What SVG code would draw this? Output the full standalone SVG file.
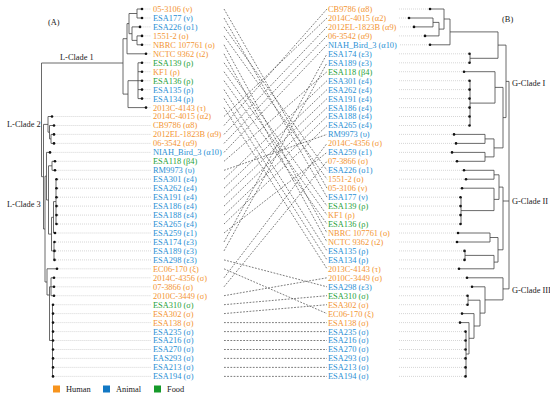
<svg xmlns="http://www.w3.org/2000/svg" width="550" height="396" viewBox="0 0 550 396">
<style>
text{font-family:"Liberation Serif","Times New Roman",serif;font-size:8.4px}
.k{fill:#222}
.h{fill:#f39533}
.a{fill:#2a8fd4}
.f{fill:#1fa23a}
circle{fill:#111}
.ld{stroke:#aaa;stroke-width:0.6;stroke-dasharray:0.8 1.2}
.br{fill:none;stroke:#444;stroke-width:0.8}
.cn line{stroke:#444;stroke-width:0.7;stroke-dasharray:1.8 1.4}
</style>
<rect width="550" height="396" fill="#fff"/>
<text class="k" x="48" y="25">(A)</text>
<text class="k" x="502" y="22">(B)</text>
<g id="tree-left">
<path class="br" d="M137 9H142M137 18H142M137 9V18M137 35.9H142M137 44.8H142M137 35.9V44.8M132 26.9H140M132 40.4H137M132 26.9V40.4M129 13.5H137M129 33.7H132M129 13.5V33.7M127 23.6H129M127 53.8H146M127 23.6V53.8M138 62.8H142M138 71.7H142M138 80.7H142M138 89.6H142M138 98.6H142M138 62.8V98.6M128 80.7H138M128 107.6H146M128 80.7V107.6M123 38.7H127M123 94.1H128M123 38.7V94.1M41.5 63H123M41.5 63V176.7M41.5 176.7H43.5M51 134.4H54M51 143.4H54M51 134.4V143.4M49.5 125.5H54M49.5 138.9H51M49.5 125.5V138.9M48 116.5H52M48 132.2H49.5M48 116.5V132.2M43.5 124.4H48M43.5 124.4V229M43.5 229H45M56 179.2V224M53.5 201.6H56M53.5 233H55M53.5 201.6V233M54 242V259.9M51.5 217.3H53.5M51.5 250.9H54M51.5 217.3V250.9M52 161.3H55M52 170.3H55M52 161.3V170.3M48.5 165.8H52M48.5 234.1H51.5M48.5 165.8V234.1M46.5 152.4H50M46.5 200H48.5M46.5 152.4V200M51 277.8H54M51 286.8H54M51 295.7H54M51 277.8V295.7M52.5 304.7V376.4M49.5 286.8H51M49.5 340.5H52.5M49.5 286.8V340.5M47 268.8H57M47 295H49.5M47 268.8V295M45 176.2H46.5M45 282H47M45 176.2V282"/>
<text class="k" x="60" y="60">L-Clade 1</text>
<text class="k" x="7" y="127">L-Clade 2</text>
<text class="k" x="7" y="207">L-Clade 3</text>
</g>
<g id="tree-right">
<path class="br" d="M409 18H433M414 26.9H433M433 18V26.9M425 35.9H439M433 22.4H439M439 22.4V35.9M430 9H444M439 29.1H444M444 9V29.1M430 44.8H450M444 19H450M450 19V44.8M450 31.9H498M470 53.8V62.8M470 58.3H498M498 31.9V58.3M498 45.1H506M464 71.7H495M470 80.7V125.5M470 103.1H495M495 71.7V103.1M495 87.4H503M454 134.4H485M456 143.4H485M485 134.4V143.4M485 138.9H494M452 152.4H485M457 161.3H485M485 152.4V161.3M485 156.9H494M494 138.9V156.9M494 147.9H503M503 87.4V147.9M503 117.6H506M506 45.1V117.6M506 81.4H509M509 81.4V288.9M464 170.3H494M466 179.2H494M494 170.3V179.2M494 174.8H499M461 197.2V224M461 210.6H494M462 188.2H494M494 188.2V210.6M494 199.4H499M499 174.8V199.4M499 187.1H503M458 233H490M457 242H490M490 233V242M490 237.5H498M465 250.9V259.9M465 255.4H494M459 268.8H494M494 255.4V268.8M494 262.1H498M498 237.5V262.1M498 249.8H503M503 187.1V249.8M503 201H509M466 331.6V376.4M466 354H469M460 322.6H469M469 322.6V354M469 338.3H474M462 313.6H474M474 313.6V338.3M474 326H480M468 295.7V304.7M468 300.2H480M480 300.2V326M480 313.1H485M472 286.8H485M485 286.8V313.1M485 299.9H503M467 277.8H503M503 277.8V299.9M503 288.9H509"/>
<text class="k" x="512" y="86">G-Clade I</text>
<text class="k" x="512" y="204">G-Clade II</text>
<text class="k" x="512" y="293">G-Clade III</text>
</g>
<g id="connectors" class="cn">
<line x1="224" y1="9" x2="327" y2="188.2"/>
<line x1="224" y1="18" x2="327" y2="197.2"/>
<line x1="224" y1="26.9" x2="327" y2="170.3"/>
<line x1="224" y1="35.9" x2="327" y2="179.2"/>
<line x1="224" y1="44.8" x2="327" y2="233"/>
<line x1="224" y1="53.8" x2="327" y2="242"/>
<line x1="224" y1="62.8" x2="327" y2="206.1"/>
<line x1="224" y1="71.7" x2="327" y2="215.1"/>
<line x1="224" y1="80.7" x2="327" y2="224"/>
<line x1="224" y1="89.6" x2="327" y2="250.9"/>
<line x1="224" y1="98.6" x2="327" y2="259.9"/>
<line x1="224" y1="107.6" x2="327" y2="268.8"/>
<line x1="224" y1="116.5" x2="327" y2="18"/>
<line x1="224" y1="125.5" x2="327" y2="9"/>
<line x1="224" y1="134.4" x2="327" y2="26.9"/>
<line x1="224" y1="143.4" x2="327" y2="35.9"/>
<line x1="224" y1="152.4" x2="327" y2="44.8"/>
<line x1="224" y1="161.3" x2="327" y2="71.7"/>
<line x1="224" y1="170.3" x2="327" y2="134.4"/>
<line x1="224" y1="179.2" x2="327" y2="80.7"/>
<line x1="224" y1="188.2" x2="327" y2="89.6"/>
<line x1="224" y1="197.2" x2="327" y2="98.6"/>
<line x1="224" y1="206.1" x2="327" y2="107.6"/>
<line x1="224" y1="215.1" x2="327" y2="116.5"/>
<line x1="224" y1="224" x2="327" y2="125.5"/>
<line x1="224" y1="233" x2="327" y2="152.4"/>
<line x1="224" y1="242" x2="327" y2="53.8"/>
<line x1="224" y1="250.9" x2="327" y2="62.8"/>
<line x1="224" y1="259.9" x2="327" y2="286.8"/>
<line x1="224" y1="268.8" x2="327" y2="313.6"/>
<line x1="224" y1="277.8" x2="327" y2="143.4"/>
<line x1="224" y1="286.8" x2="327" y2="161.3"/>
<line x1="224" y1="295.7" x2="327" y2="277.8"/>
<line x1="224" y1="304.7" x2="327" y2="295.7"/>
<line x1="224" y1="313.6" x2="327" y2="304.7"/>
<line x1="224" y1="322.6" x2="327" y2="322.6"/>
<line x1="224" y1="331.6" x2="327" y2="331.6"/>
<line x1="224" y1="340.5" x2="327" y2="340.5"/>
<line x1="224" y1="349.5" x2="327" y2="349.5"/>
<line x1="224" y1="358.4" x2="327" y2="358.4"/>
<line x1="224" y1="367.4" x2="327" y2="367.4"/>
<line x1="224" y1="376.4" x2="327" y2="376.4"/>
</g>
<g id="left-tips">
<g id="L0" class="h" transform="translate(0 9)"><line class="ld" x1="143.5" x2="151"/><circle cx="142" r="1.3"/><text x="153" y="2.9">05-3106 (ν)</text></g>
<g id="L1" class="a" transform="translate(0 18)"><line class="ld" x1="143.5" x2="151"/><circle cx="142" r="1.3"/><text x="153" y="2.9">ESA177 (ν)</text></g>
<g id="L2" class="a" transform="translate(0 26.9)"><line class="ld" x1="141.5" x2="151"/><circle cx="140" r="1.3"/><text x="153" y="2.9">ESA226 (ο1)</text></g>
<g id="L3" class="h" transform="translate(0 35.9)"><line class="ld" x1="143.5" x2="151"/><circle cx="142" r="1.3"/><text x="153" y="2.9">1551-2 (ο)</text></g>
<g id="L4" class="h" transform="translate(0 44.8)"><line class="ld" x1="143.5" x2="151"/><circle cx="142" r="1.3"/><text x="153" y="2.9">NBRC 107761 (ο)</text></g>
<g id="L5" class="h" transform="translate(0 53.8)"><line class="ld" x1="147.5" x2="151"/><circle cx="146" r="1.3"/><text x="153" y="2.9">NCTC 9362 (ι2)</text></g>
<g id="L6" class="f" transform="translate(0 62.8)"><line class="ld" x1="143.5" x2="151"/><circle cx="142" r="1.3"/><text x="153" y="2.9">ESA139 (ρ)</text></g>
<g id="L7" class="h" transform="translate(0 71.7)"><line class="ld" x1="143.5" x2="151"/><circle cx="142" r="1.3"/><text x="153" y="2.9">KF1 (ρ)</text></g>
<g id="L8" class="f" transform="translate(0 80.7)"><line class="ld" x1="143.5" x2="151"/><circle cx="142" r="1.3"/><text x="153" y="2.9">ESA136 (ρ)</text></g>
<g id="L9" class="a" transform="translate(0 89.6)"><line class="ld" x1="143.5" x2="151"/><circle cx="142" r="1.3"/><text x="153" y="2.9">ESA135 (ρ)</text></g>
<g id="L10" class="a" transform="translate(0 98.6)"><line class="ld" x1="143.5" x2="151"/><circle cx="142" r="1.3"/><text x="153" y="2.9">ESA134 (ρ)</text></g>
<g id="L11" class="h" transform="translate(0 107.6)"><line class="ld" x1="147.5" x2="151"/><circle cx="146" r="1.3"/><text x="153" y="2.9">2013C-4143 (τ)</text></g>
<g id="L12" class="h" transform="translate(0 116.5)"><line class="ld" x1="53.5" x2="151"/><circle cx="52" r="1.3"/><text x="153" y="2.9">2014C-4015 (α2)</text></g>
<g id="L13" class="h" transform="translate(0 125.5)"><line class="ld" x1="55.5" x2="151"/><circle cx="54" r="1.3"/><text x="153" y="2.9">CB9786 (α8)</text></g>
<g id="L14" class="h" transform="translate(0 134.4)"><line class="ld" x1="55.5" x2="151"/><circle cx="54" r="1.3"/><text x="153" y="2.9">2012EL-1823B (α9)</text></g>
<g id="L15" class="h" transform="translate(0 143.4)"><line class="ld" x1="55.5" x2="151"/><circle cx="54" r="1.3"/><text x="153" y="2.9">06-3542 (α9)</text></g>
<g id="L16" class="a" transform="translate(0 152.4)"><line class="ld" x1="51.5" x2="151"/><circle cx="50" r="1.3"/><text x="153" y="2.9">NIAH_Bird_3 (α10)</text></g>
<g id="L17" class="f" transform="translate(0 161.3)"><line class="ld" x1="56.5" x2="151"/><circle cx="55" r="1.3"/><text x="153" y="2.9">ESA118 (β4)</text></g>
<g id="L18" class="a" transform="translate(0 170.3)"><line class="ld" x1="56.5" x2="151"/><circle cx="55" r="1.3"/><text x="153" y="2.9">RM9973 (υ)</text></g>
<g id="L19" class="a" transform="translate(0 179.2)"><line class="ld" x1="58" x2="151"/><circle cx="56.5" r="1.3"/><text x="153" y="2.9">ESA301 (ε4)</text></g>
<g id="L20" class="a" transform="translate(0 188.2)"><line class="ld" x1="58" x2="151"/><circle cx="56.5" r="1.3"/><text x="153" y="2.9">ESA262 (ε4)</text></g>
<g id="L21" class="a" transform="translate(0 197.2)"><line class="ld" x1="58" x2="151"/><circle cx="56.5" r="1.3"/><text x="153" y="2.9">ESA191 (ε4)</text></g>
<g id="L22" class="a" transform="translate(0 206.1)"><line class="ld" x1="58" x2="151"/><circle cx="56.5" r="1.3"/><text x="153" y="2.9">ESA186 (ε4)</text></g>
<g id="L23" class="a" transform="translate(0 215.1)"><line class="ld" x1="58" x2="151"/><circle cx="56.5" r="1.3"/><text x="153" y="2.9">ESA188 (ε4)</text></g>
<g id="L24" class="a" transform="translate(0 224)"><line class="ld" x1="58" x2="151"/><circle cx="56.5" r="1.3"/><text x="153" y="2.9">ESA265 (ε4)</text></g>
<g id="L25" class="a" transform="translate(0 233)"><line class="ld" x1="56.5" x2="151"/><circle cx="55" r="1.3"/><text x="153" y="2.9">ESA259 (ε1)</text></g>
<g id="L26" class="a" transform="translate(0 242)"><line class="ld" x1="56" x2="151"/><circle cx="54.5" r="1.3"/><text x="153" y="2.9">ESA174 (ε3)</text></g>
<g id="L27" class="a" transform="translate(0 250.9)"><line class="ld" x1="56" x2="151"/><circle cx="54.5" r="1.3"/><text x="153" y="2.9">ESA189 (ε3)</text></g>
<g id="L28" class="a" transform="translate(0 259.9)"><line class="ld" x1="56" x2="151"/><circle cx="54.5" r="1.3"/><text x="153" y="2.9">ESA298 (ε3)</text></g>
<g id="L29" class="h" transform="translate(0 268.8)"><line class="ld" x1="58.5" x2="151"/><circle cx="57" r="1.3"/><text x="153" y="2.9">EC06-170 (ξ)</text></g>
<g id="L30" class="h" transform="translate(0 277.8)"><line class="ld" x1="55.5" x2="151"/><circle cx="54" r="1.3"/><text x="153" y="2.9">2014C-4356 (σ)</text></g>
<g id="L31" class="h" transform="translate(0 286.8)"><line class="ld" x1="55.5" x2="151"/><circle cx="54" r="1.3"/><text x="153" y="2.9">07-3866 (σ)</text></g>
<g id="L32" class="h" transform="translate(0 295.7)"><line class="ld" x1="55.5" x2="151"/><circle cx="54" r="1.3"/><text x="153" y="2.9">2010C-3449 (σ)</text></g>
<g id="L33" class="f" transform="translate(0 304.7)"><line class="ld" x1="54.5" x2="151"/><circle cx="53" r="1.3"/><text x="153" y="2.9">ESA310 (σ)</text></g>
<g id="L34" class="h" transform="translate(0 313.6)"><line class="ld" x1="54.5" x2="151"/><circle cx="53" r="1.3"/><text x="153" y="2.9">ESA302 (σ)</text></g>
<g id="L35" class="h" transform="translate(0 322.6)"><line class="ld" x1="54.5" x2="151"/><circle cx="53" r="1.3"/><text x="153" y="2.9">ESA138 (σ)</text></g>
<g id="L36" class="a" transform="translate(0 331.6)"><line class="ld" x1="54.5" x2="151"/><circle cx="53" r="1.3"/><text x="153" y="2.9">ESA235 (σ)</text></g>
<g id="L37" class="a" transform="translate(0 340.5)"><line class="ld" x1="54.5" x2="151"/><circle cx="53" r="1.3"/><text x="153" y="2.9">ESA216 (σ)</text></g>
<g id="L38" class="a" transform="translate(0 349.5)"><line class="ld" x1="54.5" x2="151"/><circle cx="53" r="1.3"/><text x="153" y="2.9">ESA270 (σ)</text></g>
<g id="L39" class="a" transform="translate(0 358.4)"><line class="ld" x1="54.5" x2="151"/><circle cx="53" r="1.3"/><text x="153" y="2.9">EAS293 (σ)</text></g>
<g id="L40" class="a" transform="translate(0 367.4)"><line class="ld" x1="54.5" x2="151"/><circle cx="53" r="1.3"/><text x="153" y="2.9">ESA213 (σ)</text></g>
<g id="L41" class="a" transform="translate(0 376.4)"><line class="ld" x1="54.5" x2="151"/><circle cx="53" r="1.3"/><text x="153" y="2.9">ESA194 (σ)</text></g>
</g>
<g id="right-tips">
<g id="R0" class="h" transform="translate(0 9)"><line class="ld" x1="399" x2="428.5"/><circle cx="430" r="1.3"/><text x="328" y="2.9">CB9786 (α8)</text></g>
<g id="R1" class="h" transform="translate(0 18)"><line class="ld" x1="399" x2="407.5"/><circle cx="409" r="1.3"/><text x="328" y="2.9">2014C-4015 (α2)</text></g>
<g id="R2" class="h" transform="translate(0 26.9)"><line class="ld" x1="400" x2="412.5"/><circle cx="414" r="1.3"/><text x="328" y="2.9">2012EL-1823B (α9)</text></g>
<g id="R3" class="h" transform="translate(0 35.9)"><line class="ld" x1="399" x2="423.5"/><circle cx="425" r="1.3"/><text x="328" y="2.9">06-3542 (α9)</text></g>
<g id="R4" class="a" transform="translate(0 44.8)"><line class="ld" x1="400" x2="428.5"/><circle cx="430" r="1.3"/><text x="328" y="2.9">NIAH_Bird_3 (α10)</text></g>
<g id="R5" class="a" transform="translate(0 53.8)"><line class="ld" x1="399" x2="467.5"/><circle cx="469.5" r="1.3"/><text x="328" y="2.9">ESA174 (ε3)</text></g>
<g id="R6" class="a" transform="translate(0 62.8)"><line class="ld" x1="399" x2="467.5"/><circle cx="469.5" r="1.3"/><text x="328" y="2.9">ESA189 (ε3)</text></g>
<g id="R7" class="f" transform="translate(0 71.7)"><line class="ld" x1="399" x2="462.5"/><circle cx="464" r="1.3"/><text x="328" y="2.9">ESA118 (β4)</text></g>
<g id="R8" class="a" transform="translate(0 80.7)"><line class="ld" x1="399" x2="467.5"/><circle cx="469.5" r="1.3"/><text x="328" y="2.9">ESA301 (ε4)</text></g>
<g id="R9" class="a" transform="translate(0 89.6)"><line class="ld" x1="399" x2="467.5"/><circle cx="469.5" r="1.3"/><text x="328" y="2.9">ESA262 (ε4)</text></g>
<g id="R10" class="a" transform="translate(0 98.6)"><line class="ld" x1="399" x2="467.5"/><circle cx="469.5" r="1.3"/><text x="328" y="2.9">ESA191 (ε4)</text></g>
<g id="R11" class="a" transform="translate(0 107.6)"><line class="ld" x1="399" x2="467.5"/><circle cx="469.5" r="1.3"/><text x="328" y="2.9">ESA186 (ε4)</text></g>
<g id="R12" class="a" transform="translate(0 116.5)"><line class="ld" x1="399" x2="467.5"/><circle cx="469.5" r="1.3"/><text x="328" y="2.9">ESA188 (ε4)</text></g>
<g id="R13" class="a" transform="translate(0 125.5)"><line class="ld" x1="399" x2="467.5"/><circle cx="469.5" r="1.3"/><text x="328" y="2.9">ESA265 (ε4)</text></g>
<g id="R14" class="a" transform="translate(0 134.4)"><line class="ld" x1="399" x2="452.5"/><circle cx="454" r="1.3"/><text x="328" y="2.9">RM9973 (υ)</text></g>
<g id="R15" class="h" transform="translate(0 143.4)"><line class="ld" x1="399" x2="454.5"/><circle cx="456" r="1.3"/><text x="328" y="2.9">2014C-4356 (σ)</text></g>
<g id="R16" class="a" transform="translate(0 152.4)"><line class="ld" x1="399" x2="450.5"/><circle cx="452" r="1.3"/><text x="328" y="2.9">ESA259 (ε1)</text></g>
<g id="R17" class="h" transform="translate(0 161.3)"><line class="ld" x1="399" x2="455.5"/><circle cx="457" r="1.3"/><text x="328" y="2.9">07-3866 (σ)</text></g>
<g id="R18" class="a" transform="translate(0 170.3)"><line class="ld" x1="399" x2="462.5"/><circle cx="464" r="1.3"/><text x="328" y="2.9">ESA226 (ο1)</text></g>
<g id="R19" class="h" transform="translate(0 179.2)"><line class="ld" x1="399" x2="464.5"/><circle cx="466" r="1.3"/><text x="328" y="2.9">1551-2 (ο)</text></g>
<g id="R20" class="h" transform="translate(0 188.2)"><line class="ld" x1="399" x2="460.5"/><circle cx="462" r="1.3"/><text x="328" y="2.9">05-3106 (ν)</text></g>
<g id="R21" class="a" transform="translate(0 197.2)"><line class="ld" x1="399" x2="459"/><circle cx="460.5" r="1.3"/><text x="328" y="2.9">ESA177 (ν)</text></g>
<g id="R22" class="f" transform="translate(0 206.1)"><line class="ld" x1="399" x2="459"/><circle cx="460.5" r="1.3"/><text x="328" y="2.9">ESA139 (ρ)</text></g>
<g id="R23" class="h" transform="translate(0 215.1)"><line class="ld" x1="399" x2="459"/><circle cx="460.5" r="1.3"/><text x="328" y="2.9">KF1 (ρ)</text></g>
<g id="R24" class="f" transform="translate(0 224)"><line class="ld" x1="399" x2="459"/><circle cx="460.5" r="1.3"/><text x="328" y="2.9">ESA136 (ρ)</text></g>
<g id="R25" class="h" transform="translate(0 233)"><line class="ld" x1="399" x2="456.5"/><circle cx="458" r="1.3"/><text x="328" y="2.9">NBRC 107761 (ο)</text></g>
<g id="R26" class="h" transform="translate(0 242)"><line class="ld" x1="399" x2="455.5"/><circle cx="457" r="1.3"/><text x="328" y="2.9">NCTC 9362 (ι2)</text></g>
<g id="R27" class="a" transform="translate(0 250.9)"><line class="ld" x1="399" x2="463"/><circle cx="464.5" r="1.3"/><text x="328" y="2.9">ESA135 (ρ)</text></g>
<g id="R28" class="a" transform="translate(0 259.9)"><line class="ld" x1="399" x2="463"/><circle cx="464.5" r="1.3"/><text x="328" y="2.9">ESA134 (ρ)</text></g>
<g id="R29" class="h" transform="translate(0 268.8)"><line class="ld" x1="399" x2="457.5"/><circle cx="459" r="1.3"/><text x="328" y="2.9">2013C-4143 (τ)</text></g>
<g id="R30" class="h" transform="translate(0 277.8)"><line class="ld" x1="399" x2="465.5"/><circle cx="467" r="1.3"/><text x="328" y="2.9">2010C-3449 (σ)</text></g>
<g id="R31" class="a" transform="translate(0 286.8)"><line class="ld" x1="399" x2="470.5"/><circle cx="472" r="1.3"/><text x="328" y="2.9">ESA298 (ε3)</text></g>
<g id="R32" class="f" transform="translate(0 295.7)"><line class="ld" x1="399" x2="466"/><circle cx="467.5" r="1.3"/><text x="328" y="2.9">ESA310 (σ)</text></g>
<g id="R33" class="h" transform="translate(0 304.7)"><line class="ld" x1="399" x2="466"/><circle cx="467.5" r="1.3"/><text x="328" y="2.9">ESA302 (σ)</text></g>
<g id="R34" class="h" transform="translate(0 313.6)"><line class="ld" x1="399" x2="460.5"/><circle cx="462" r="1.3"/><text x="328" y="2.9">EC06-170 (ξ)</text></g>
<g id="R35" class="h" transform="translate(0 322.6)"><line class="ld" x1="399" x2="458.5"/><circle cx="460" r="1.3"/><text x="328" y="2.9">ESA138 (σ)</text></g>
<g id="R36" class="a" transform="translate(0 331.6)"><line class="ld" x1="399" x2="464"/><circle cx="465.5" r="1.3"/><text x="328" y="2.9">ESA235 (σ)</text></g>
<g id="R37" class="a" transform="translate(0 340.5)"><line class="ld" x1="399" x2="464"/><circle cx="465.5" r="1.3"/><text x="328" y="2.9">ESA216 (σ)</text></g>
<g id="R38" class="a" transform="translate(0 349.5)"><line class="ld" x1="399" x2="464"/><circle cx="465.5" r="1.3"/><text x="328" y="2.9">ESA270 (σ)</text></g>
<g id="R39" class="a" transform="translate(0 358.4)"><line class="ld" x1="399" x2="464"/><circle cx="465.5" r="1.3"/><text x="328" y="2.9">ESA293 (σ)</text></g>
<g id="R40" class="a" transform="translate(0 367.4)"><line class="ld" x1="399" x2="464"/><circle cx="465.5" r="1.3"/><text x="328" y="2.9">ESA213 (σ)</text></g>
<g id="R41" class="a" transform="translate(0 376.4)"><line class="ld" x1="399" x2="464"/><circle cx="465.5" r="1.3"/><text x="328" y="2.9">ESA194 (σ)</text></g>
</g>
<g id="legend">
<rect x="53" y="385.5" width="7" height="7" fill="#f7941d"/>
<text class="k" x="66" y="392">Human</text>
<rect x="103" y="385.5" width="7" height="7" fill="#1278c4"/>
<text class="k" x="116" y="392">Animal</text>
<rect x="154" y="385.5" width="7" height="7" fill="#169a2a"/>
<text class="k" x="167" y="392">Food</text>
</g>
</svg>
